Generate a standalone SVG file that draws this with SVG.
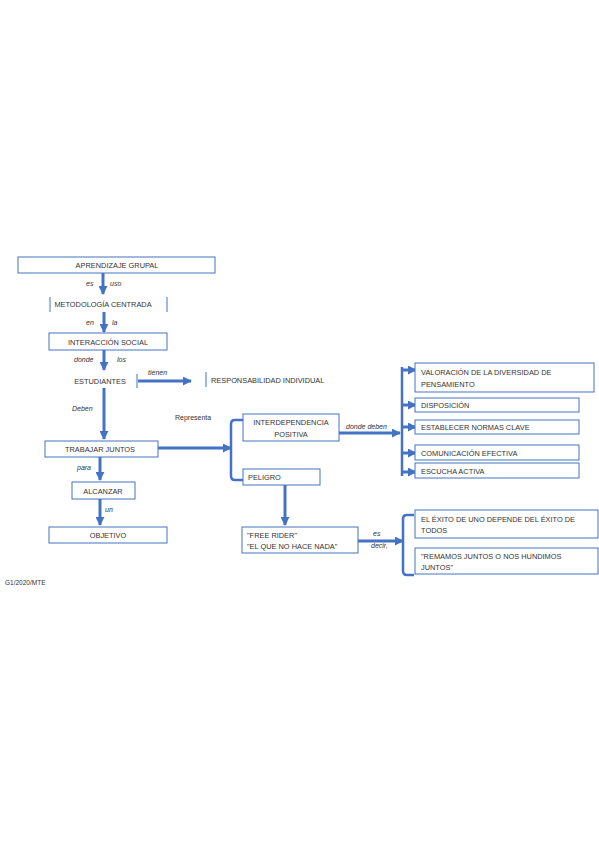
<svg xmlns="http://www.w3.org/2000/svg" width="599" height="848" viewBox="0 0 599 848">
<defs>
<marker id="ah" viewBox="0 0 10 10" refX="9" refY="5" markerWidth="9" markerHeight="9" markerUnits="userSpaceOnUse" orient="auto">
<path d="M0,0 L10,5 L0,10 z" fill="#4472C4"/>
</marker>
<style>
.box{fill:#fff;stroke:#4472C4;stroke-width:1}
.bar{stroke:#4472C4;stroke-width:1;fill:none}
.t{font-family:"Liberation Sans",Arial,sans-serif;font-size:7.4px;fill:#333}
.c{text-anchor:middle}
.lbl{font-family:"Liberation Sans",Arial,sans-serif;font-size:7px;font-style:italic;fill:#333}
.arr{stroke:#4472C4;stroke-width:3;fill:none;marker-end:url(#ah)}
.brace{stroke:#4472C4;stroke-width:2.5;fill:none}
</style>
</defs>
<rect width="599" height="848" fill="#fff"/>
<g id="connectors">
<line class="arr" x1="103" y1="273" x2="103" y2="294"/>
<line class="arr" x1="104" y1="312" x2="104" y2="332"/>
<line class="arr" x1="104" y1="350" x2="104" y2="370"/>
<line class="arr" x1="138" y1="381" x2="191" y2="381"/>
<line class="arr" x1="104" y1="388" x2="104" y2="439"/>
<line class="arr" x1="158" y1="448" x2="231" y2="448"/>
<path class="brace" d="M243,420 H235 Q231,420 231,424 V476 Q231,480 235,480 H243"/>
<line class="arr" x1="339" y1="433" x2="400" y2="433"/>
<path class="brace" d="M402,367 V476"/>
<line class="arr" x1="402" y1="370" x2="416" y2="370"/>
<line class="arr" x1="402" y1="405" x2="416" y2="405"/>
<line class="arr" x1="402" y1="427" x2="416" y2="427"/>
<line class="arr" x1="402" y1="453" x2="416" y2="453"/>
<line class="arr" x1="402" y1="472" x2="416" y2="472"/>
<line class="arr" x1="100" y1="457" x2="100" y2="480"/>
<line class="arr" x1="100" y1="499" x2="100" y2="525"/>
<line class="arr" x1="285" y1="485" x2="285" y2="525"/>
<line class="arr" x1="358" y1="541" x2="403" y2="541"/>
<path class="brace" d="M414,515 H407 Q403,515 403,519 V571 Q403,575 407,575 H414"/>
</g>
<g id="labels">
<text class="lbl" x="86" y="286">es</text>
<text class="lbl" x="110" y="286">uso</text>
<text class="lbl" x="86" y="325">en</text>
<text class="lbl" x="112" y="325">la</text>
<text class="lbl" x="74" y="362">donde</text>
<text class="lbl" x="117" y="362">los</text>
<text class="lbl" x="148" y="375">tienen</text>
<text class="lbl" x="72" y="411">Deben</text>
<text class="t" x="175" y="420" style="font-size:7px">Representa</text>
<text class="lbl" x="77" y="470">para</text>
<text class="lbl" x="105" y="512">un</text>
<text class="lbl" x="346" y="429">donde deben</text>
<text class="lbl" x="373" y="536">es</text>
<text class="lbl" x="371" y="548">decir,</text>
<text class="t" x="5" y="585" style="font-size:6.5px">G1/2020/MTE</text>
</g>
<g id="n-aprendizaje">
<rect class="box" x="18" y="257" width="197" height="16"/>
<text class="t c" x="117" y="267.5">APRENDIZAJE GRUPAL</text>
</g>
<g id="n-metodologia">
<path class="bar" d="M50,297 V312 M167,297 V312"/>
<text class="t c" x="103" y="307">METODOLOGÍA CENTRADA</text>
</g>
<g id="n-interaccion">
<rect class="box" x="49" y="333" width="118" height="17"/>
<text class="t c" x="108" y="344.5">INTERACCIÓN SOCIAL</text>
</g>
<g id="n-estudiantes">
<path class="bar" d="M137,374 V388"/>
<text class="t c" x="100" y="384">ESTUDIANTES</text>
</g>
<g id="n-responsabilidad">
<path class="bar" d="M206,372 V387"/>
<text class="t" x="211" y="383">RESPONSABILIDAD INDIVIDUAL</text>
</g>
<g id="n-trabajar">
<rect class="box" x="45" y="441" width="113" height="16"/>
<text class="t c" x="100" y="452">TRABAJAR JUNTOS</text>
</g>
<g id="n-alcanzar">
<rect class="box" x="72" y="482" width="63" height="17"/>
<text class="t c" x="103" y="493.5">ALCANZAR</text>
</g>
<g id="n-objetivo">
<rect class="box" x="49" y="527" width="118" height="16"/>
<text class="t c" x="108" y="538">OBJETIVO</text>
</g>
<g id="n-interdependencia">
<rect class="box" x="243" y="414" width="96" height="27"/>
<text class="t c" x="291" y="425">INTERDEPENDENCIA</text>
<text class="t c" x="291" y="437">POSITIVA</text>
</g>
<g id="n-peligro">
<rect class="box" x="243" y="469" width="77" height="16"/>
<text class="t" x="248" y="480">PELIGRO</text>
</g>
<g id="n-freerider">
<rect class="box" x="242" y="527" width="116" height="26"/>
<text class="t" x="247" y="537.5">"FREE RIDER"</text>
<text class="t" x="247" y="549">"EL QUE NO HACE NADA"</text>
</g>
<g id="n-valoracion">
<rect class="box" x="415" y="363" width="179" height="29"/>
<text class="t" x="421" y="375">VALORACIÓN DE LA DIVERSIDAD DE</text>
<text class="t" x="421" y="386.5">PENSAMIENTO</text>
</g>
<g id="n-disposicion">
<rect class="box" x="415" y="398" width="164" height="14"/>
<text class="t" x="421" y="408">DISPOSICIÓN</text>
</g>
<g id="n-normas">
<rect class="box" x="415" y="420" width="164" height="14"/>
<text class="t" x="421" y="430">ESTABLECER NORMAS CLAVE</text>
</g>
<g id="n-comunicacion">
<rect class="box" x="415" y="445" width="164" height="15"/>
<text class="t" x="421" y="455.5">COMUNICACIÓN EFECTIVA</text>
</g>
<g id="n-escucha">
<rect class="box" x="415" y="463" width="164" height="15"/>
<text class="t" x="421" y="473.5">ESCUCHA ACTIVA</text>
</g>
<g id="n-exito">
<rect class="box" x="415" y="510" width="183" height="28"/>
<text class="t" x="421" y="521.5">EL ÉXITO DE UNO DEPENDE DEL ÉXITO DE</text>
<text class="t" x="421" y="532.5">TODOS</text>
</g>
<g id="n-remamos">
<rect class="box" x="415" y="548" width="183" height="26"/>
<text class="t" x="421" y="559">"REMAMOS JUNTOS O NOS HUNDIMOS</text>
<text class="t" x="421" y="569.5">JUNTOS"</text>
</g>
</svg>
